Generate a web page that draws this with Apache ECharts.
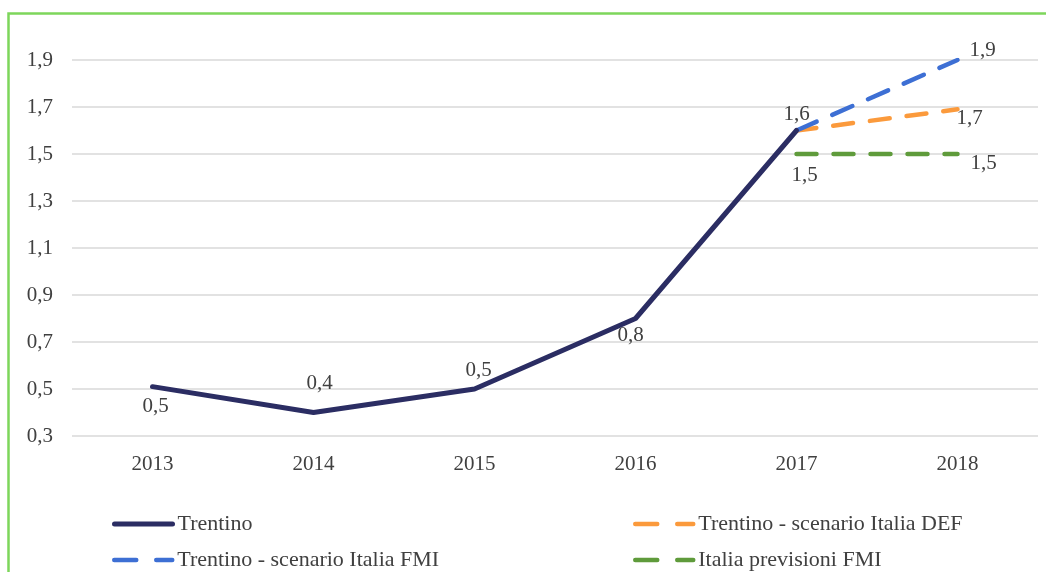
<!DOCTYPE html>
<html>
<head>
<meta charset="utf-8">
<script src="https://cdn.jsdelivr.net/npm/echarts@6/dist/echarts.min.js"></script>
<style>
html,body{margin:0;padding:0;background:#fff;}
#chart{width:1046px;height:572px;}
</style>
</head>
<body>
<div id="chart"></div>
<script>
// ---- data ----
const categories = ['2013', '2014', '2015', '2016', '2017', '2018'];
const trentino = [0.51, 0.40, 0.50, 0.80, 1.60, null];
const scenarioDEF = [null, null, null, null, 1.60, 1.69];
const scenarioFMI = [null, null, null, null, 1.60, 1.90];
const italiaFMI = [null, null, null, null, 1.50, 1.50];
const yTicks = { min: 0.3, max: 1.9, step: 0.2 };
const seriesNames = ['Trentino', 'Trentino - scenario Italia DEF', 'Trentino - scenario Italia FMI', 'Italia previsioni FMI'];

// label placement offsets (style)
const offTrentino = [[3, 20], [6, -29], [4, -19], [-5, 17], [0, -16], null];
const offDEF = [null, null, null, null, null, [12, 9]];
const offFMI = [null, null, null, null, null, [25, -10]];
const offItalia = [null, null, null, null, [8, 21], [26, 9]];

const FONT = 'Liberation Serif';
const TXT = '#404040';
const fmt = v => (Math.round(v * 10) / 10).toFixed(1).replace('.', ',');
const COLORS = ['#2b2d63', '#fb9a3c', '#3d6fd4', '#5f9b3b'];

function build(values, offs) {
  return values.map((v, i) => {
    if (v === null) return null;
    const o = offs[i];
    return {
      value: v,
      label: o ? { show: true, position: 'inside', offset: o, formatter: () => fmt(v) } : { show: false }
    };
  });
}

function lineSeries(name, values, offs, color, width, dash, z) {
  return {
    name: name, type: 'line', data: build(values, offs),
    symbol: 'circle', symbolSize: 0.1, showSymbol: true,
    itemStyle: { color: color },
    lineStyle: { color: color, width: width, type: dash, cap: 'round' },
    label: { color: TXT, fontFamily: FONT, fontSize: 21 },
    emphasis: { disabled: true },
    animation: false, z: z
  };
}

function legendFor(idx, left, top, width, dash) {
  return {
    data: [{ name: seriesNames[idx], lineStyle: { width: width, type: dash, cap: 'round', color: COLORS[idx] }, itemStyle: { opacity: 0 } }],
    left: left, top: top, orient: 'horizontal',
    itemWidth: 58, itemHeight: 14,
    textStyle: { color: TXT, fontFamily: FONT, fontSize: 22, padding: [0, 0, 0, 0] },
    selectedMode: false
  };
}

const chart = echarts.init(document.getElementById('chart'), null, { renderer: 'canvas' });
chart.setOption({
  backgroundColor: '#fff',
  animation: false,
  graphic: [{
    type: 'rect', shape: { x: 8.5, y: 13.5, width: 1100, height: 700 },
    style: { fill: 'none', stroke: '#7dd65b', lineWidth: 2.5 }, silent: true, z: 0
  }],
  grid: { left: 72, right: 8, top: 60, bottom: 136 },
  xAxis: {
    type: 'category', data: categories, boundaryGap: true,
    axisLine: { show: false }, axisTick: { show: false },
    axisLabel: { color: TXT, fontFamily: FONT, fontSize: 21, margin: 18 }
  },
  yAxis: {
    type: 'value', min: yTicks.min, max: yTicks.max, interval: yTicks.step,
    axisLine: { show: false }, axisTick: { show: false },
    splitLine: { lineStyle: { color: '#d9d9d9', width: 1.5 } },
    axisLabel: { color: TXT, fontFamily: FONT, fontSize: 21, margin: 19, formatter: v => fmt(v) }
  },
  legend: [
    legendFor(0, 107, 508, 5, 'solid'),
    legendFor(2, 107, 544, 4.5, [22, 20]),
    legendFor(1, 628, 508, 4.5, [22, 20]),
    legendFor(3, 628, 544, 4.5, [22, 20])
  ],
  series: [
    lineSeries(seriesNames[3], italiaFMI, offItalia, COLORS[3], 4.5, [20, 17], 3),
    lineSeries(seriesNames[1], scenarioDEF, offDEF, COLORS[1], 4.5, [20, 17], 4),
    lineSeries(seriesNames[2], scenarioFMI, offFMI, COLORS[2], 4.5, [22, 17], 5),
    lineSeries(seriesNames[0], trentino, offTrentino, COLORS[0], 5, 'solid', 6)
  ]
});
</script>
</body>
</html>
